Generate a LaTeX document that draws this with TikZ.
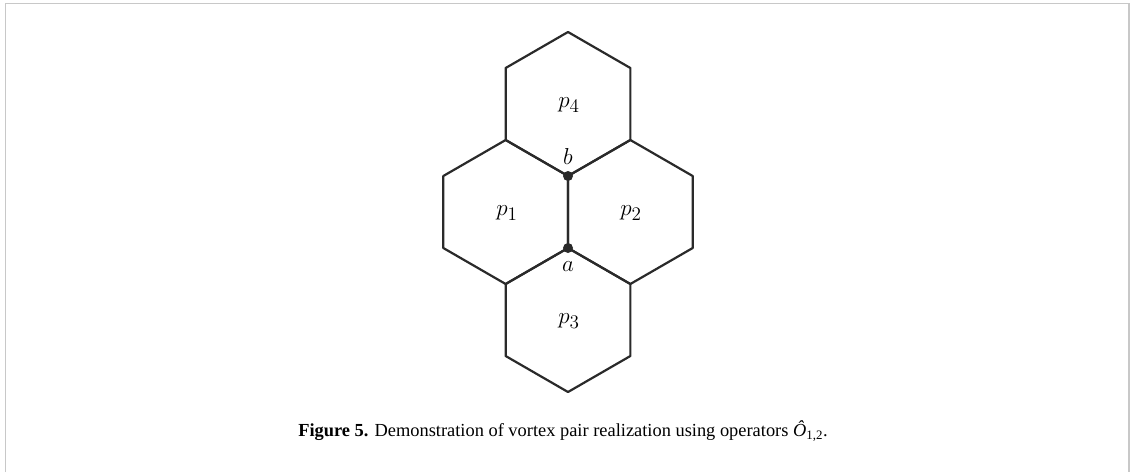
\documentclass[tikz,border=0pt]{standalone}
\usepackage[no-math]{fontspec}
\setmainfont{Liberation Serif}
\usetikzlibrary{positioning}

\definecolor{edgegray}{RGB}{42,42,42}
\definecolor{framegray}{RGB}{200,200,200}

\tikzset{
  hexedge/.style={color=edgegray, line width=1.65pt, line join=round},
  vertexdot/.style={circle, fill=edgegray, inner sep=0pt, minimum size=7.5pt},
  plaqlabel/.style={inner sep=0.75pt, font=\fontsize{19}{22}\selectfont},
  framestyle/.style={color=framegray, line width=1.1pt}
}

\begin{document}
\begin{tikzpicture}[x=0.75pt,y=0.75pt,yscale=-1,xscale=1]
\useasboundingbox (0,0) rectangle (1130,472);

%Frame
\draw [framestyle] (5.5,472) -- (5.5,3.5) -- (1129,3.5) -- (1129,472) ;

%Shape: Hexagon p4
\draw [hexedge] (568,32) -- (630.35,68) -- (630.35,140) -- (568,176) -- (505.65,140) -- (505.65,68) -- cycle ;
%Shape: Hexagon p1
\draw [hexedge] (505.65,140) -- (568,176) -- (568,248) -- (505.65,284) -- (443.3,248) -- (443.3,176) -- cycle ;
%Shape: Hexagon p2
\draw [hexedge] (630.35,140) -- (692.7,176) -- (692.7,248) -- (630.35,284) -- (568,248) -- (568,176) -- cycle ;
%Shape: Hexagon p3
\draw [hexedge] (568,248) -- (630.35,284) -- (630.35,356) -- (568,392) -- (505.65,356) -- (505.65,284) -- cycle ;

%Vertices
\node [vertexdot] (b) at (568,176) {};
\node [vertexdot] (a) at (568,248) {};

% Text Node
\node [plaqlabel] (p4) at (569,105) {$p_4$};
% Text Node
\node [plaqlabel] (p1) at (507,213) {$p_1$};
% Text Node
\node [plaqlabel] (p2) at (631,213) {$p_2$};
% Text Node
\node [plaqlabel] (p3) at (569,321) {$p_3$};
% Text Node
\node [plaqlabel, above=4pt of b] (lb) {$b$};
% Text Node
\node [plaqlabel, below=5pt of a] (la) {$a$};

% Caption
\node [inner sep=0pt, font=\fontsize{13.8}{16}\selectfont] (caption) at (563,431)
  {\textbf{Figure 5.} Demonstration of vortex pair realization using operators \textit{Ô}\textsubscript{1,2}.};

\end{tikzpicture}
\end{document}
